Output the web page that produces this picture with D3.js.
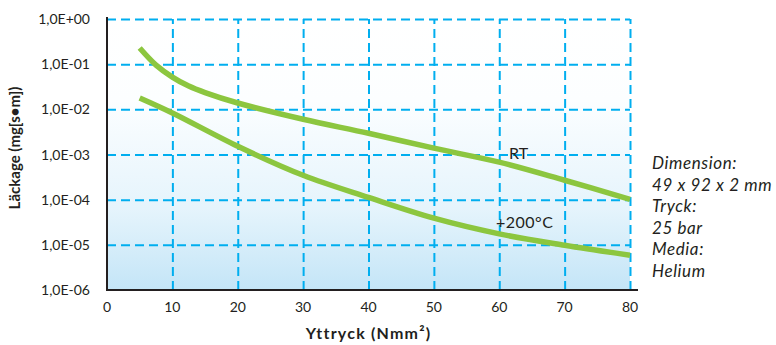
<!DOCTYPE html>
<html>
<head>
<meta charset="utf-8">
<script src="https://cdn.jsdelivr.net/npm/d3@7/dist/d3.min.js"></script>
<style>
  body { margin: 0; background: #fff; }
  svg text { font-family: Lato, "Open Sans", sans-serif; fill: #231f20; }
</style>
</head>
<body>
<div id="chart"></div>
<script>
// Pressure values (x) and leakage for each curve
const pressure = [5, 7.5, 10, 12.5, 15, 20, 30, 40, 50, 60, 70, 80];
const leakRT = [0.228, 0.0955, 0.0518, 0.0327, 0.0235, 0.0138, 0.00603, 0.00295, 0.00138, 0.000676, 0.000269, 0.000102];
const pressure200 = [5, 10, 20, 30, 40, 50, 60, 70, 80];
const leak200 = [0.0178, 0.0083, 0.00152, 0.000347, 0.000112, 0.0000389, 0.0000175, 0.0000098, 0.0000059];

const xTicks = [0, 10, 20, 30, 40, 50, 60, 70, 80];
const yTicks = [1, 1e-1, 1e-2, 1e-3, 1e-4, 1e-5, 1e-6];
const yTickLabels = ['1,0E+00', '1,0E-01', '1,0E-02', '1,0E-03', '1,0E-04', '1,0E-05', '1,0E-06'];
const infoLines = ['Dimension:', '49 x 92 x 2 mm', 'Tryck:', '25 bar', 'Media:', 'Helium'];

const width = 776, height = 345;
const plotLeft = 107, plotRight = 630, plotTop = 19, plotBottom = 290;

const svg = d3.select('#chart')
  .append('svg')
  .attr('width', width)
  .attr('height', height);

// Scales
const x = d3.scaleLinear().domain([0, 80]).range([plotLeft, plotRight]);
const y = d3.scaleLog().domain([1e-6, 1]).range([plotBottom, plotTop]);

// Background gradient
const grad = svg.append('defs').append('linearGradient')
  .attr('id', 'bg')
  .attr('x1', 0).attr('y1', 0).attr('x2', 0).attr('y2', 1);
grad.append('stop').attr('offset', '0').attr('stop-color', '#ffffff');
grad.append('stop').attr('offset', '0.3').attr('stop-color', '#fcfeff');
grad.append('stop').attr('offset', '0.7').attr('stop-color', '#e5f4fc');
grad.append('stop').attr('offset', '1').attr('stop-color', '#c4e5f7');

svg.append('rect')
  .attr('x', x(0))
  .attr('y', y(1))
  .attr('width', x(80) - x(0))
  .attr('height', y(1e-6) - y(1))
  .attr('fill', 'url(#bg)');

// Grid lines (dashed blue)
svg.append('g')
  .attr('transform', `translate(0,${plotBottom})`)
  .call(d3.axisBottom(x).tickValues(xTicks.slice(1)).tickSize(-(plotBottom - plotTop)).tickFormat(''))
  .call(g => g.select('.domain').remove())
  .selectAll('line')
    .attr('stroke', '#00aeef')
    .attr('stroke-width', 2)
    .attr('stroke-dasharray', '9,5');

svg.append('g')
  .attr('transform', `translate(${plotLeft},0)`)
  .call(d3.axisLeft(y).tickValues(yTicks.slice(0, -1)).tickSize(-(plotRight - plotLeft)).tickFormat(''))
  .call(g => g.select('.domain').remove())
  .selectAll('line')
    .attr('stroke', '#00aeef')
    .attr('stroke-width', 2)
    .attr('stroke-dasharray', '9,5');

// Axis lines
svg.append('line')
  .attr('x1', x(0)).attr('x2', x(0))
  .attr('y1', y(1) - 2).attr('y2', y(1e-6) + 1)
  .attr('stroke', '#231f20').attr('stroke-width', 2);
svg.append('line')
  .attr('x1', x(0) - 1).attr('x2', x(80) + 8)
  .attr('y1', y(1e-6)).attr('y2', y(1e-6))
  .attr('stroke', '#231f20').attr('stroke-width', 2);

// Tick labels
svg.append('g')
  .selectAll('text')
  .data(xTicks)
  .enter()
  .append('text')
  .attr('x', d => x(d))
  .attr('y', plotBottom + 22)
  .attr('text-anchor', 'middle')
  .style('font-size', '14px')
  .text(d => d);

svg.append('g')
  .selectAll('text')
  .data(yTicks)
  .enter()
  .append('text')
  .attr('x', 90)
  .attr('y', d => y(d) + 5)
  .attr('text-anchor', 'end')
  .style('font-size', '14px')
  .text((d, i) => yTickLabels[i]);

// Curves
const line = d3.line()
  .x(d => x(d[0]))
  .y(d => y(d[1]))
  .curve(d3.curveCatmullRom);

svg.append('path')
  .datum(pressure.map((p, i) => [p, leakRT[i]]))
  .attr('d', line)
  .attr('fill', 'none')
  .attr('stroke', '#8cc63f')
  .attr('stroke-width', 5.5);

svg.append('path')
  .datum(pressure200.map((p, i) => [p, leak200[i]]))
  .attr('d', line)
  .attr('fill', 'none')
  .attr('stroke', '#8cc63f')
  .attr('stroke-width', 5.5);

// Curve labels
svg.append('text')
  .attr('x', x(61.5))
  .attr('y', 159)
  .style('font-size', '16px')
  .text('RT');

svg.append('text')
  .attr('x', x(59.5))
  .attr('y', 228)
  .style('font-size', '16px')
  .style('letter-spacing', '0.5px')
  .text('+200°C');

// Axis titles
svg.append('text')
  .attr('x', x(40))
  .attr('y', 339)
  .attr('text-anchor', 'middle')
  .style('font-size', '16px')
  .style('font-weight', 'bold')
  .style('letter-spacing', '1.2px')
  .text('Yttryck (Nmm²)');

svg.append('text')
  .attr('transform', 'translate(20,148) rotate(-90)')
  .attr('text-anchor', 'middle')
  .style('font-size', '15px')
  .style('font-weight', 'bold')
  .text('Läckage (mg[s•m])');

// Side note
svg.append('g')
  .selectAll('text')
  .data(infoLines)
  .enter()
  .append('text')
  .attr('x', 652)
  .attr('y', (d, i) => 169 + i * 21.6)
  .style('font-size', '17px')
  .style('font-style', 'italic')
  .style('letter-spacing', '0.6px')
  .text(d => d);
</script>
</body>
</html>
